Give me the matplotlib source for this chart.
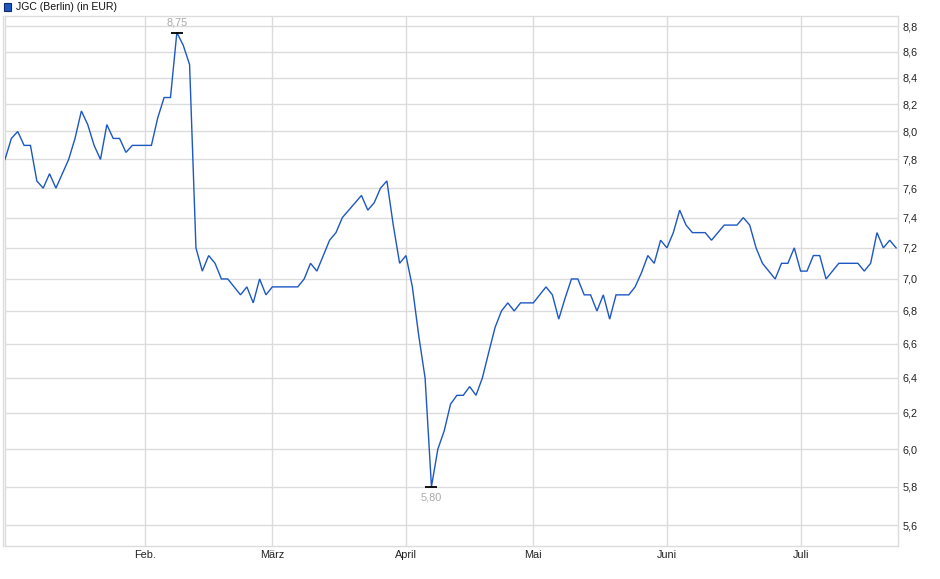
import numpy as np
import matplotlib
matplotlib.use("Agg")
import matplotlib.pyplot as plt
from matplotlib.ticker import FixedLocator, FuncFormatter, NullLocator, NullFormatter
from matplotlib.patches import Rectangle

# ---------------- data ----------------
title = "JGC (Berlin) (in EUR)"
month_labels = ["Jan.", "Feb.", "März", "April", "Mai", "Juni", "Juli"]
month_lengths = [22, 20, 21, 20, 21, 21, 16]   # trading days per month shown
prices = [
    7.8, 7.95, 8.0, 7.9, 7.9, 7.65, 7.6, 7.7, 7.6, 7.7,
    7.8, 7.95, 8.15, 8.05, 7.9, 7.8, 8.05, 7.95, 7.95, 7.85,
    7.9, 7.9,
    7.9, 7.9, 8.1, 8.25, 8.25, 8.75, 8.65, 8.5, 7.2, 7.05,
    7.15, 7.1, 7.0, 7.0, 6.95, 6.9, 6.95, 6.85, 7.0, 6.9,
    6.95, 6.95, 6.95, 6.95, 6.95, 7.0, 7.1, 7.05, 7.15, 7.25,
    7.3, 7.4, 7.45, 7.5, 7.55, 7.45, 7.5, 7.6, 7.65, 7.35,
    7.1,
    7.15, 6.95, 6.65, 6.4, 5.8, 6.0, 6.1, 6.25, 6.3, 6.3,
    6.35, 6.3, 6.4, 6.55, 6.7, 6.8, 6.85, 6.8, 6.85, 6.85,
    6.85, 6.9, 6.95, 6.9, 6.75, 6.88, 7.0, 7.0, 6.9, 6.9,
    6.8, 6.9, 6.75, 6.9, 6.9, 6.9, 6.95, 7.04, 7.15, 7.1,
    7.25,
    7.2, 7.3, 7.45, 7.35, 7.3, 7.3, 7.3, 7.25, 7.3, 7.35,
    7.35, 7.35, 7.4, 7.35, 7.2, 7.1, 7.05, 7.0, 7.1, 7.1,
    7.2,
    7.05, 7.05, 7.15, 7.15, 7.0, 7.05, 7.1, 7.1, 7.1, 7.1,
    7.05, 7.1, 7.3, 7.2, 7.25, 7.2,
]
y_ticks = [5.6, 5.8, 6.0, 6.2, 6.4, 6.6, 6.8, 7.0, 7.2, 7.4, 7.6, 7.8, 8.0, 8.2, 8.4, 8.6, 8.8]

# ---------------- style ----------------
W, H = 940, 579
LINE = "#1c57c4"
GRID = "#dcdcdc"
FONT = ["Liberation Sans", "DejaVu Sans"]
plt.rcParams["font.family"] = FONT

fig = plt.figure(figsize=(W / 100, H / 100), dpi=100)
left_px, right_px, top_px, bot_px = 5, 898, 16, 546
ax = fig.add_axes([left_px / W, 1 - bot_px / H, (right_px - left_px) / W, (bot_px - top_px) / H])

x = np.arange(len(prices))
p = np.array(prices)

ax.set_yscale("log")
ax.set_ylim(5.4965, 8.882)
ax.set_xlim(0, 140.3)

# month starts
starts = np.concatenate([[0], np.cumsum(month_lengths)[:-1]])
ax.set_xticks(starts[1:])
ax.set_xticklabels(month_labels[1:])

ax.yaxis.set_major_locator(FixedLocator(y_ticks))
ax.yaxis.set_major_formatter(FuncFormatter(lambda v, pos: f"{v:.1f}".replace(".", ",")))
ax.yaxis.set_minor_locator(NullLocator())
ax.yaxis.set_minor_formatter(NullFormatter())
ax.yaxis.tick_right()

ax.grid(True, color=GRID, linewidth=1.0)
ax.set_axisbelow(True)
ax.tick_params(axis="both", length=0, labelsize=7.8, colors="#222222")
ax.tick_params(axis="y", pad=3.3)
ax.tick_params(axis="x", pad=3)
for s in ax.spines.values():
    s.set_color(GRID)
    s.set_linewidth(1.0)

ax.plot(x, p, color=LINE, linewidth=1.0, solid_joinstyle="miter", zorder=3)

# high / low markers
imax, imin = int(np.argmax(p)), int(np.argmin(p))
for i, dy in [(imax, 7.5), (imin, -7.8)]:
    ax.plot([x[i]], [p[i]], marker="_", markersize=8, markeredgewidth=1.3, color="black", zorder=4)
    ax.annotate(f"{p[i]:.2f}".replace(".", ","), (x[i], p[i]), xytext=(0, dy),
                textcoords="offset points", ha="center", va="center", fontsize=7.8,
                color="#a8a8a8", zorder=5)

# legend (top-left)
fig.patches.append(Rectangle((3.5 / W, 1 - 10.5 / H), 7.5 / W, 7.5 / H, transform=fig.transFigure,
                             facecolor=LINE, edgecolor="#0d2a66", linewidth=0.8))
fig.text(16 / W, 1 - 7.5 / H, title, ha="left", va="center", fontsize=7.6, color="#111111")

# extra faint left edge line
fig.add_artist(plt.Line2D([2.7 / W, 2.7 / W], [1 - 546 / H, 1 - 16 / H], transform=fig.transFigure,
                          color=GRID, linewidth=1.0))

fig.savefig("out.png", dpi=100)
